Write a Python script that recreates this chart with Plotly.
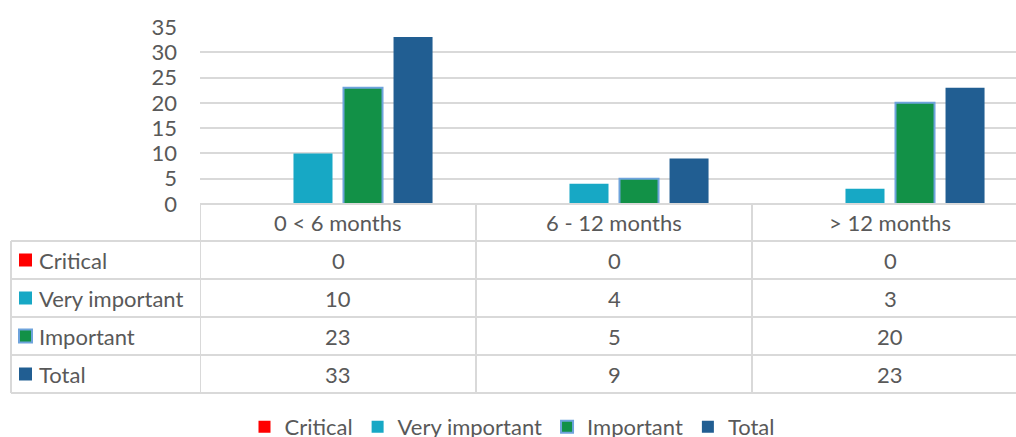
import plotly.graph_objects as go

# Data
categories = ["0 < 6 months", "6 - 12 months", "> 12 months"]
series_names = ["Critical", "Very important", "Important", "Total"]
critical = [0, 0, 0]
very_important = [10, 4, 3]
important = [23, 5, 20]
total = [33, 9, 23]

W, H = 1016, 437
FONT = "Lato"
FS = 22
TXT = "#595959"
GRID = "#d9d9d9"

colors = {
    "Critical": "#ff0000",
    "Very important": "#17a8c5",
    "Important": "#129147",
    "Total": "#215e92",
}
outlines = {"Important": "#6ea3dc"}
values = {
    "Critical": critical,
    "Very important": very_important,
    "Important": important,
    "Total": total,
}


def px(x):
    return x / W


def py(y):
    return (H - y) / H


# plot area in pixels
plot_left, plot_top, plot_bottom = 200, 27, 204
col_width = 276
row_edges = [241, 279, 317, 355, 393]

fig = go.Figure()

for name in series_names:
    fig.add_trace(go.Bar(
        x=categories,
        y=values[name],
        name=name,
        marker=dict(
            color=colors[name],
            line=dict(color=outlines.get(name, colors[name]),
                      width=2 if name in outlines else 0),
        ),
    ))

shapes = []
annotations = []

# table top border (header row top) and row borders
shapes.append(dict(type="line", xref="paper", yref="paper",
                   x0=px(plot_left), x1=1, y0=py(plot_bottom), y1=py(plot_bottom),
                   line=dict(color=GRID, width=2)))
for y in row_edges:
    shapes.append(dict(type="line", xref="paper", yref="paper",
                       x0=px(11), x1=1, y0=py(y), y1=py(y),
                       line=dict(color=GRID, width=2)))

# vertical borders
shapes.append(dict(type="line", xref="paper", yref="paper",
                   x0=px(11), x1=px(11), y0=py(row_edges[0]), y1=py(row_edges[-1]),
                   line=dict(color=GRID, width=2)))
for i in range(len(categories) + 1):
    shapes.append(dict(type="line", xref="x", yref="paper",
                       x0=i - 0.5, x1=i - 0.5,
                       y0=py(plot_bottom), y1=py(row_edges[-1]),
                       line=dict(color=GRID, width=2)))

# header row: category labels
header_mid = (plot_bottom + row_edges[0]) / 2
for cat in categories:
    annotations.append(dict(x=cat, y=py(header_mid), xref="x", yref="paper",
                            text=cat, showarrow=False, yanchor="middle",
                            font=dict(family=FONT, size=FS, color=TXT)))

# data rows with legend keys
for r, name in enumerate(series_names):
    mid = (row_edges[r] + row_edges[r + 1]) / 2
    shapes.append(dict(type="rect", xref="paper", yref="paper",
                       x0=px(19), x1=px(32), y0=py(mid + 6.5), y1=py(mid - 6.5),
                       fillcolor=colors[name],
                       line=dict(color=outlines.get(name, colors[name]),
                                 width=2 if name in outlines else 0)))
    annotations.append(dict(x=px(37), y=py(mid), xref="paper", yref="paper",
                            text=name, showarrow=False,
                            xanchor="left", yanchor="middle",
                            font=dict(family=FONT, size=FS, color=TXT)))
    for cat, v in zip(categories, values[name]):
        annotations.append(dict(x=cat, y=py(mid), xref="x", yref="paper",
                                text=str(v), showarrow=False,
                                xanchor="center", yanchor="middle",
                                font=dict(family=FONT, size=FS, color=TXT)))

fig.update_layout(
    width=W,
    height=H,
    margin=dict(l=0, r=0, t=0, b=0, autoexpand=False),
    paper_bgcolor="white",
    plot_bgcolor="white",
    barmode="group",
    bargap=0.275,
    bargroupgap=0.22,
    font=dict(family=FONT, size=FS, color=TXT),
    xaxis=dict(
        domain=[px(plot_left), 1],
        range=[-0.5, -0.5 + (W - plot_left) / col_width],
        showticklabels=False,
        showgrid=False,
        zeroline=False,
        showline=False,
        ticks="",
    ),
    yaxis=dict(
        domain=[py(plot_bottom), py(plot_top)],
        range=[0, 35],
        dtick=5,
        showgrid=True,
        gridcolor=GRID,
        gridwidth=1.5,
        zeroline=False,
        showline=False,
        ticks="",
        ticklabelstandoff=22,
        tickfont=dict(family=FONT, size=FS, color=TXT),
    ),
    legend=dict(
        orientation="h",
        x=px(512),
        xanchor="center",
        y=py(406),
        yanchor="top",
        font=dict(family=FONT, size=FS, color=TXT),
        bgcolor="rgba(0,0,0,0)",
    ),
    shapes=shapes,
    annotations=annotations,
)

# the page body has a default 8px margin; drop it so the figure fills the window
fig.write_html("out.html", config={"displayModeBar": False},
               post_script="document.body.style.margin = '0';")
